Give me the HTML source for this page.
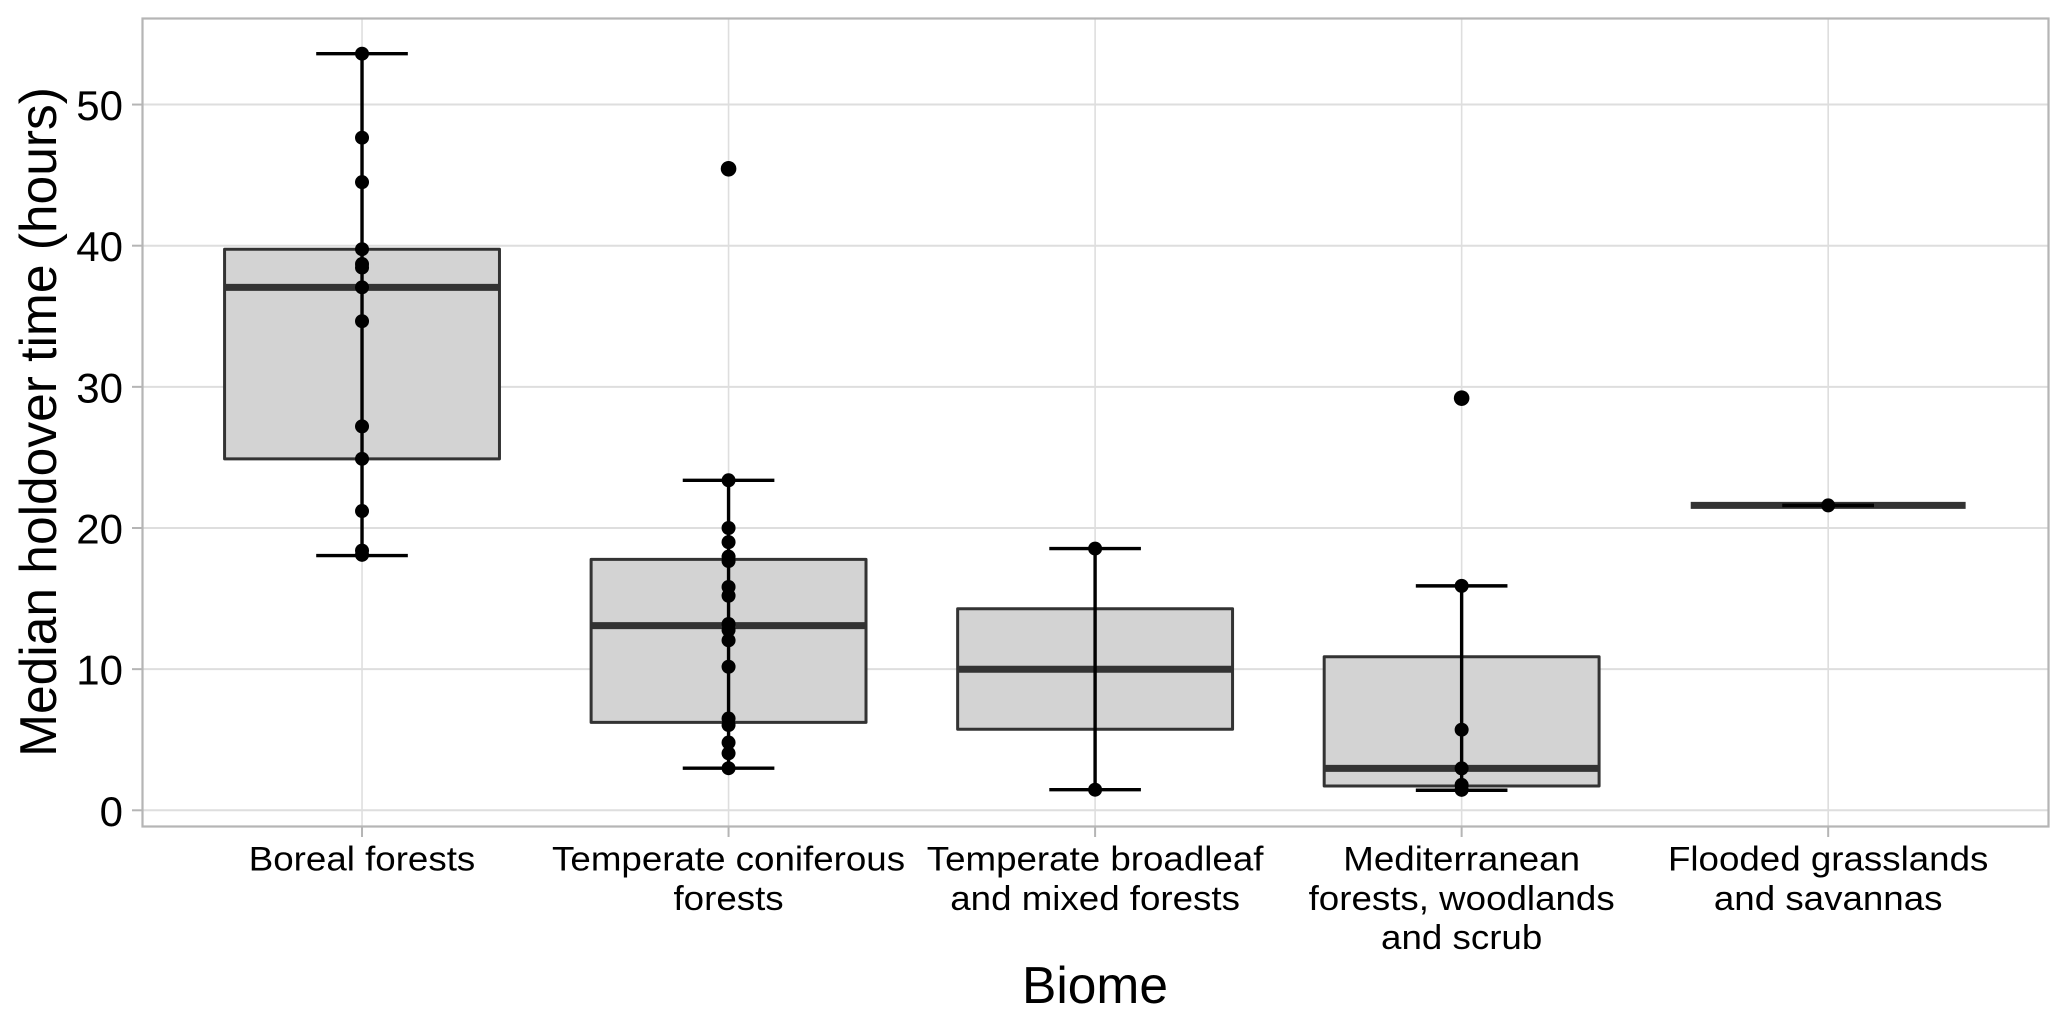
<!DOCTYPE html>
<html lang="en">
<head>
<meta charset="utf-8">
<title>Median holdover time by biome</title>
<style>
html,body{margin:0;padding:0;background:#fff;}
svg{display:block;font-family:"Liberation Sans",Arial,sans-serif;}
</style>
</head>
<body>
<svg id="chart" xmlns="http://www.w3.org/2000/svg" width="2067" height="1022" viewBox="0 0 2067 1022">
  <rect x="0" y="0" width="2067" height="1022" fill="#ffffff"/>
  <g id="grid"></g>
  <g id="marks"></g>
  <rect x="142.5" y="18.5" width="1906" height="808" fill="none" stroke="#b5b5b5" stroke-width="2.2"/>
  <g id="axes"></g>
  <text x="1095" y="1003" font-size="51.5" text-anchor="middle" fill="#000">Biome</text>
  <text transform="translate(56,422) rotate(-90)" font-size="51.5" text-anchor="middle" fill="#000">Median holdover time (hours)</text>
</svg>
<script>
const categoryLabels = [
  ["Boreal forests"],
  ["Temperate coniferous", "forests"],
  ["Temperate broadleaf", "and mixed forests"],
  ["Mediterranean", "forests, woodlands", "and scrub"],
  ["Flooded grasslands", "and savannas"]
];
const yTicks = [0, 10, 20, 30, 40, 50];
const q1Values = [24.9, 6.23, 5.74, 1.72, 21.6];
const medianValues = [37.05, 13.08, 9.99, 2.97, 21.6];
const q3Values = [39.75, 17.78, 14.28, 10.88, 21.6];
const whiskerLowValues = [18.05, 2.98, 1.46, 1.42, 21.6];
const whiskerHighValues = [53.6, 23.38, 18.54, 15.9, 21.6];
const outlierValues = [[], [45.45], [], [29.2], []];
const pointValues = [
  [53.6, 47.65, 44.5, 39.75, 38.7, 38.45, 37.05, 34.65, 27.2, 24.9, 21.2, 18.4, 18.1],
  [23.38, 20, 19, 17.97, 17.66, 15.82, 15.2, 13.2, 12.77, 12.04, 10.17, 6.5, 6.04, 4.8, 4.04, 2.98],
  [18.54, 1.46],
  [15.9, 5.71, 2.97, 1.8, 1.45],
  [21.6]
];

const NS = "http://www.w3.org/2000/svg";
const panel = {left: 142.5, right: 2048.5, top: 18.5, bottom: 826.5};
const xStep = (panel.right - panel.left) / 5.2;
function xScale(i) { return panel.left - 0.4 + xStep * (i + 0.6); }
function yScale(v) { return 810.3 - 14.115 * v; }
function make(parent, tag, attrs) {
  const el = document.createElementNS(NS, tag);
  for (const k in attrs) el.setAttribute(k, attrs[k]);
  parent.appendChild(el);
  return el;
}
const grid = document.getElementById("grid");
const marks = document.getElementById("marks");
const axes = document.getElementById("axes");

yTicks.forEach(function (t) {
  const line = make(grid, "line", {x1: panel.left, x2: panel.right, y1: yScale(t), y2: yScale(t), stroke: "#dedede", "stroke-width": 2});
  
  
  const tick = make(axes, "line", {x1: 132, x2: panel.left, y1: yScale(t), y2: yScale(t), stroke: "#b5b5b5", "stroke-width": 2});
  
  
  const label = make(axes, "text", {x: 123, y: yScale(t) + 15.5, "font-size": 42, "text-anchor": "end", fill: "#000"});
  
  
  label.textContent = String(t);
});

categoryLabels.forEach(function (lines, i) {
  const cx = xScale(i);
  const vline = make(grid, "line", {x1: cx, x2: cx, y1: panel.top, y2: panel.bottom, stroke: "#dedede", "stroke-width": 1.6});
  
  
  const tick = make(axes, "line", {x1: cx, x2: cx, y1: panel.bottom, y2: 837, stroke: "#b5b5b5", "stroke-width": 2});
  
  
  lines.forEach(function (txt, j) {
    const label = make(axes, "text", {transform: "translate(" + cx + "," + (870.7 + 39.2 * j) + ") scale(1.08,1)", "font-size": 34, "text-anchor": "middle", fill: "#000"});
    
    
    label.textContent = txt;
  });

  const group = make(marks, "g", {});
  
  
  const halfBox = xStep * 0.375;
  const halfCap = xStep * 0.125;
  const box = make(group, "rect", {
    x: cx - halfBox, width: halfBox * 2,
    y: yScale(q3Values[i]), height: yScale(q1Values[i]) - yScale(q3Values[i]),
    fill: "#d3d3d3", stroke: "#333333", "stroke-width": 3, "stroke-linejoin": "round"
  });
  
  
  const median = make(group, "line", {x1: cx - halfBox, x2: cx + halfBox, y1: yScale(medianValues[i]), y2: yScale(medianValues[i]), stroke: "#333333", "stroke-width": 7});
  
  
  const stem = make(group, "line", {x1: cx, x2: cx, y1: yScale(whiskerLowValues[i]), y2: yScale(whiskerHighValues[i]), stroke: "#000", "stroke-width": 3.4});
  
  
  const capHigh = make(group, "line", {x1: cx - halfCap, x2: cx + halfCap, y1: yScale(whiskerHighValues[i]), y2: yScale(whiskerHighValues[i]), stroke: "#000", "stroke-width": 3.4});
  
  
  const capLow = make(group, "line", {x1: cx - halfCap, x2: cx + halfCap, y1: yScale(whiskerLowValues[i]), y2: yScale(whiskerLowValues[i]), stroke: "#000", "stroke-width": 3.4});
  
  
  pointValues[i].forEach(function (v) {
    const pt = make(group, "circle", {cx: cx, cy: yScale(v), r: 7, fill: "#000"});
    
    
  });
  outlierValues[i].forEach(function (v) {
    const pt = make(group, "circle", {cx: cx, cy: yScale(v), r: 7.8, fill: "#000"});
    
    
  });
});
</script>
</body>
</html>
